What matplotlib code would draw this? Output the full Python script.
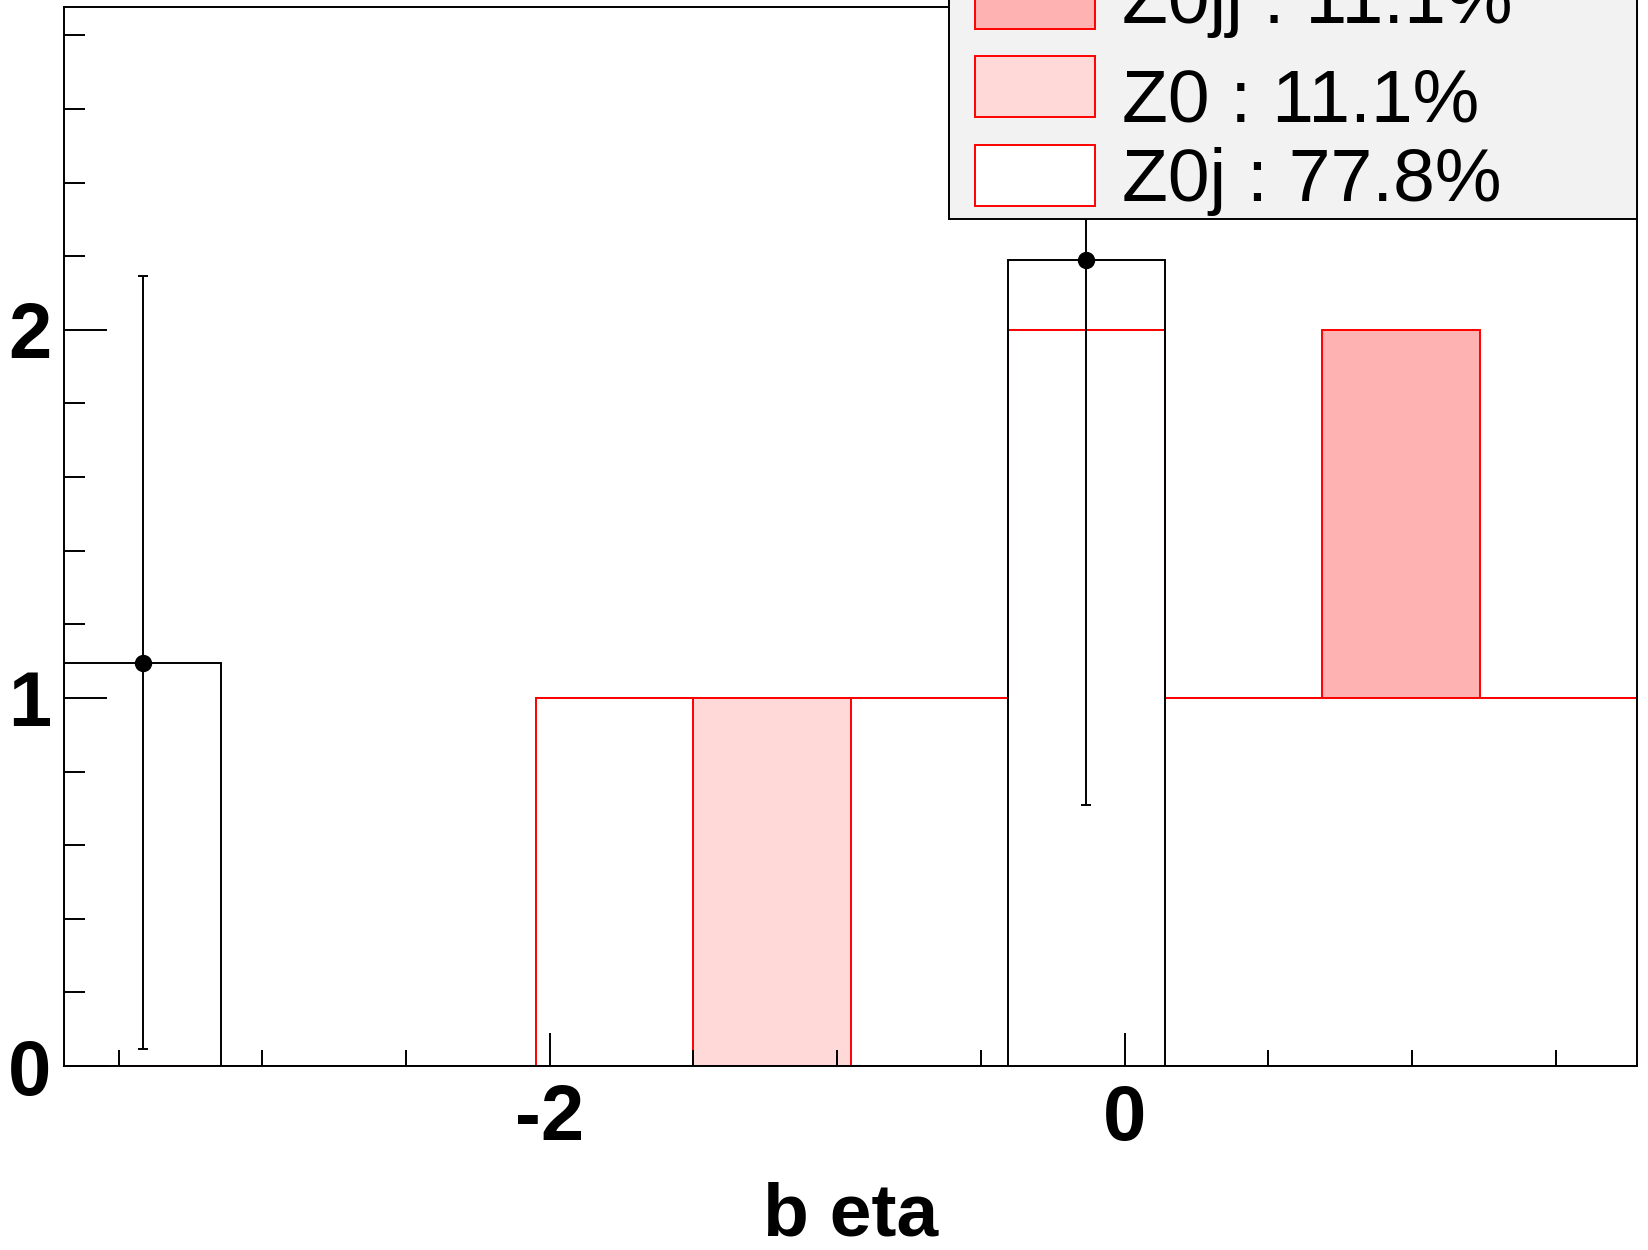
import matplotlib
matplotlib.use("Agg")
from matplotlib import pyplot as plt
from matplotlib.patches import Rectangle
from matplotlib.ticker import FixedLocator, MultipleLocator
import numpy as np

# histogram binning (b eta)
bin_edges = [-3.690, -3.143, -2.595, -2.048, -1.501, -0.953, -0.406, 0.141, 0.688, 1.236, 1.783]

# stacked MC samples, bottom to top
z0j = [0, 0, 0, 1, 0, 1, 2, 1, 1, 1]
z0 = [0, 0, 0, 0, 1, 0, 0, 0, 0, 0]
z0jj = [0, 0, 0, 0, 0, 0, 0, 0, 1, 0]

# data
data = [1.095, 0, 0, 0, 0, 0, 2.19, 0, 0, 0]
data_err = [1.05, 0, 0, 0, 0, 0, 1.48, 0, 0, 0]

legend_labels = ["Z0jj : 11.1%", "Z0 : 11.1%", "Z0j : 77.8%"]

col_z0jj = "#ffb2b2"
col_z0 = "#ffd8d8"
col_z0j = "white"

plt.rcParams["font.family"] = ["Liberation Sans", "DejaVu Sans"]
plt.rcParams["axes.unicode_minus"] = False

W, H = 1649, 1250
lw = 1.4


def fx(x):
    return x / W


def fy(y):
    return 1 - y / H


fig = plt.figure(figsize=(W / 100, H / 100), dpi=100)
ax = fig.add_axes([fx(64), fy(1066), fx(1637) - fx(64), fy(7) - fy(1066)])

edges = np.array(bin_edges)
s1 = np.array(z0j, dtype=float)
s2 = s1 + np.array(z0)
s3 = s2 + np.array(z0jj)

ax.stairs(s3, edges, fill=True, facecolor=col_z0jj, edgecolor="red", lw=lw, zorder=1)
ax.stairs(s2, edges, fill=True, facecolor=col_z0, edgecolor="red", lw=lw, zorder=1.1)
ax.stairs(s1, edges, fill=True, facecolor=col_z0j, edgecolor="red", lw=lw, zorder=1.2)

ax.stairs(data, edges, color="black", lw=lw, zorder=2)
centers = 0.5 * (edges[1:] + edges[:-1])
d = np.array(data)
e = np.array(data_err)
m = d > 0
ax.errorbar(centers[m], d[m], yerr=e[m], fmt="o", color="black", ms=11.5,
            elinewidth=lw, capsize=3.3, capthick=lw, zorder=3)

ax.set_xlim(bin_edges[0], bin_edges[-1])
ax.set_ylim(0, 2.877)

ax.xaxis.set_major_locator(FixedLocator([-2, 0]))
ax.xaxis.set_minor_locator(MultipleLocator(0.5))
ax.yaxis.set_major_locator(MultipleLocator(1))
ax.yaxis.set_minor_locator(MultipleLocator(0.2))

ax.tick_params(axis="both", which="both", direction="in", width=lw, top=False, right=False)
ax.tick_params(axis="y", which="major", length=31, pad=9, labelsize=56)
ax.tick_params(axis="y", which="minor", length=15)
ax.tick_params(axis="x", which="major", length=24, pad=12, labelsize=56)
ax.tick_params(axis="x", which="minor", length=11.5)
for lab in ax.get_xticklabels() + ax.get_yticklabels():
    lab.set_fontweight("bold")

for sp in ax.spines.values():
    sp.set_linewidth(lw)

ax.set_xlabel("b eta", fontsize=54, fontweight="bold")
ax.xaxis.set_label_coords(0.5, (1066 - 1236) / (1066 - 7))
ax.xaxis.label.set_va("baseline")

# legend box (extends past the top of the canvas)
fig.add_artist(Rectangle((fx(949), fy(219)), fx(1637) - fx(949), fy(-60) - fy(219),
                         transform=fig.transFigure, facecolor="#f2f2f2",
                         edgecolor="black", lw=lw, zorder=5))
sw_tops = [-32, 56, 145]
txt_base = [23, 122, 201]
sw_cols = [col_z0jj, col_z0, col_z0j]
for top, base, c, lab in zip(sw_tops, txt_base, sw_cols, legend_labels):
    fig.add_artist(Rectangle((fx(975), fy(top + 61)), fx(1095) - fx(975), fy(top) - fy(top + 61),
                             transform=fig.transFigure, facecolor=c,
                             edgecolor="red", lw=lw, zorder=6))
    fig.text(fx(1122), fy(base), lab, fontsize=54, va="baseline", ha="left", zorder=7)

fig.savefig("out.png", dpi=100)
